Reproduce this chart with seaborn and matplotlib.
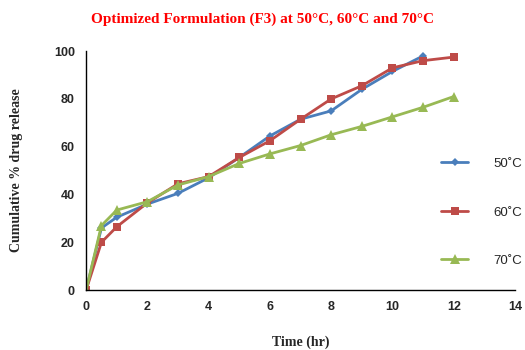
import matplotlib
matplotlib.use("Agg")
import matplotlib.pyplot as plt
import seaborn as sns
import pandas as pd

time_50 = [0, 0.5, 1, 2, 3, 4, 5, 6, 7, 8, 9, 10, 11]
rel_50 = [0, 26, 30.5, 36, 40.5, 47, 55.5, 64.5, 71.5, 75, 84, 91.5, 98]
time_60 = [0, 0.5, 1, 2, 3, 4, 5, 6, 7, 8, 9, 10, 11, 12]
rel_60 = [0, 20, 26.5, 36.5, 44.5, 47.5, 55.5, 62.5, 71.5, 80, 85.5, 93, 96, 97.5]
time_70 = [0, 0.5, 1, 2, 3, 4, 5, 6, 7, 8, 9, 10, 11, 12]
rel_70 = [0, 27, 33.5, 37, 44, 47.5, 53, 57, 60.5, 65, 68.5, 72.5, 76.5, 81]
labels = ["50\u02daC", "60\u02daC", "70\u02daC"]
xticks = [0, 2, 4, 6, 8, 10, 12, 14]
yticks = [0, 20, 40, 60, 80, 100]

df = pd.concat([
    pd.DataFrame({"t": time_50, "r": rel_50, "s": labels[0]}),
    pd.DataFrame({"t": time_60, "r": rel_60, "s": labels[1]}),
    pd.DataFrame({"t": time_70, "r": rel_70, "s": labels[2]}),
])

sns.set_style("white")
fig = plt.figure(figsize=(5.25, 3.5), dpi=100)
ax = fig.add_axes([0.164, 0.171, 0.817, 0.683])
palette = {labels[0]: "#4a7ebb", labels[1]: "#be4b48", labels[2]: "#98b954"}
markers = {labels[0]: "D", labels[1]: "s", labels[2]: "^"}
sizes = {labels[0]: 4.5, labels[1]: 6, labels[2]: 6.5}
for lab in labels:
    sub = df[df.s == lab]
    sns.lineplot(data=sub, x="t", y="r", ax=ax, color=palette[lab], marker=markers[lab],
                 markersize=sizes[lab], markeredgewidth=0, linewidth=2, label=lab)

ax.set_xlim(0, 14)
ax.set_ylim(0, 100)
ax.set_xticks(xticks)
ax.set_yticks(yticks)
for lbl in ax.get_xticklabels() + ax.get_yticklabels():
    lbl.set_fontweight("bold")
    lbl.set_fontsize(9)
    lbl.set_family("Liberation Sans")
ax.tick_params(axis="both", direction="out", length=4, width=1, color="black", pad=4)
for s in ["top", "right"]:
    ax.spines[s].set_visible(False)
for s in ["left", "bottom"]:
    ax.spines[s].set_color("black")
    ax.spines[s].set_linewidth(1)

ax.set_xlabel("Time (hr)", fontsize=10, fontweight="bold", family="Liberation Serif", labelpad=16)
ax.set_ylabel("Cumulative % drug release", fontsize=10, fontweight="bold", family="Liberation Serif", labelpad=22)
fig.text(0.5, 0.945, "Optimized Formulation (F3) at 50\u00b0C, 60\u00b0C and 70\u00b0C",
         ha="center", va="center", color="#ff0000", fontsize=11, fontweight="bold",
         family="Liberation Serif")

leg = ax.legend(loc="center left", bbox_to_anchor=(0.80, 0.325), frameon=False,
                labelspacing=2.75, handlelength=2.05, handletextpad=1.9,
                prop={"family": "Liberation Sans", "size": 9.5})
for h in leg.legend_handles:
    h.set_linewidth(2)

fig.savefig("out.png", dpi=100)
